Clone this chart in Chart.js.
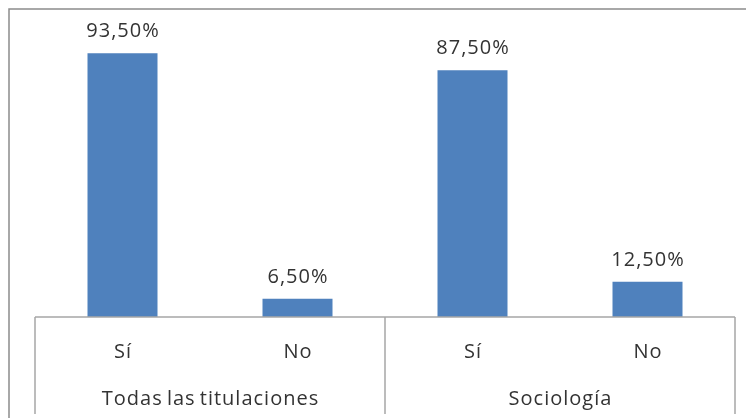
<!DOCTYPE html>
<html>
<head>
<meta charset="utf-8">
<script src="https://cdn.jsdelivr.net/npm/chart.js@4/dist/chart.umd.min.js"></script>
<style>
  body { margin: 0; background: #fff; }
  canvas { display: block; }
</style>
</head>
<body>
<canvas id="chart_respuestas" width="746" height="418"></canvas>
<script>
let categories = ['Sí', 'No', 'Sí', 'No'];
let groups = ['Todas las titulaciones', 'Sociología'];
let values = [93.5, 6.5, 87.5, 12.5];

let barColor = '#4F81BD',
    textColor = '#333333',
    lineColor = '#a6a6a6',
    fontFamily = "'Open Sans', 'Noto Sans', sans-serif";

const formatPct = (v) => v.toFixed(2).replace('.', ',') + '%';

// Excel style frame, value labels and two level category axis
const excelAxis = {
  id: 'excelAxis',
  afterDatasetsDraw(chart) {
    let ctx = chart.ctx,
        x = chart.scales.x,
        area = chart.chartArea,
        meta = chart.getDatasetMeta(0);

    ctx.save();
    ctx.fillStyle = textColor;
    ctx.textAlign = 'center';
    ctx.textBaseline = 'alphabetic';
    ctx.letterSpacing = '1px';
    ctx.wordSpacing = '-2px';
    ctx.font = `20px ${fontFamily}`;

    // values over bars
    meta.data.forEach((bar, i) => {
      ctx.fillText(formatPct(values[i]), bar.x + 0.5, bar.y - 16);
    });

    // inner category row
    categories.forEach((label, i) => {
      ctx.fillText(label, x.getPixelForValue(i) + 0.5, 358);
    });

    // group row
    let perGroup = categories.length / groups.length;
    groups.forEach((label, g) => {
      let a = x.getPixelForValue(g * perGroup),
          b = x.getPixelForValue(g * perGroup + perGroup - 1);
      ctx.fillText(label, (a + b) / 2 + 0.5, 405);
    });

    // axis lines
    ctx.strokeStyle = lineColor;
    ctx.lineWidth = 1.5;
    ctx.beginPath();
    ctx.moveTo(area.left, area.bottom);
    ctx.lineTo(area.right, area.bottom);
    for (let g = 0; g <= groups.length; g++) {
      let px = area.left + (area.right - area.left) * g / groups.length;
      ctx.moveTo(px, area.bottom);
      ctx.lineTo(px, 414);
    }
    ctx.stroke();

    // outer chart border (cut by the page)
    ctx.strokeStyle = '#8c8c8c';
    ctx.beginPath();
    ctx.moveTo(9, 418);
    ctx.lineTo(9, 9);
    ctx.lineTo(746, 9);
    ctx.stroke();
    ctx.restore();
  }
};

let data = {
  labels: categories,
  datasets: [
    {
      backgroundColor: barColor,
      data: values,
      barPercentage: 0.4,
      categoryPercentage: 1
    }
  ]
};

let options = {
  responsive: false,
  animation: false,
  layout: {
    padding: { left: 35, right: 11, top: 35, bottom: 101 }
  },
  scales: {
    x: { display: false },
    y: { display: false, min: 0, max: 100 }
  },
  plugins: {
    legend: { display: false },
    tooltip: { enabled: false }
  }
};

new Chart('chart_respuestas', { type: 'bar', data, options, plugins: [excelAxis] });
</script>
</body>
</html>
